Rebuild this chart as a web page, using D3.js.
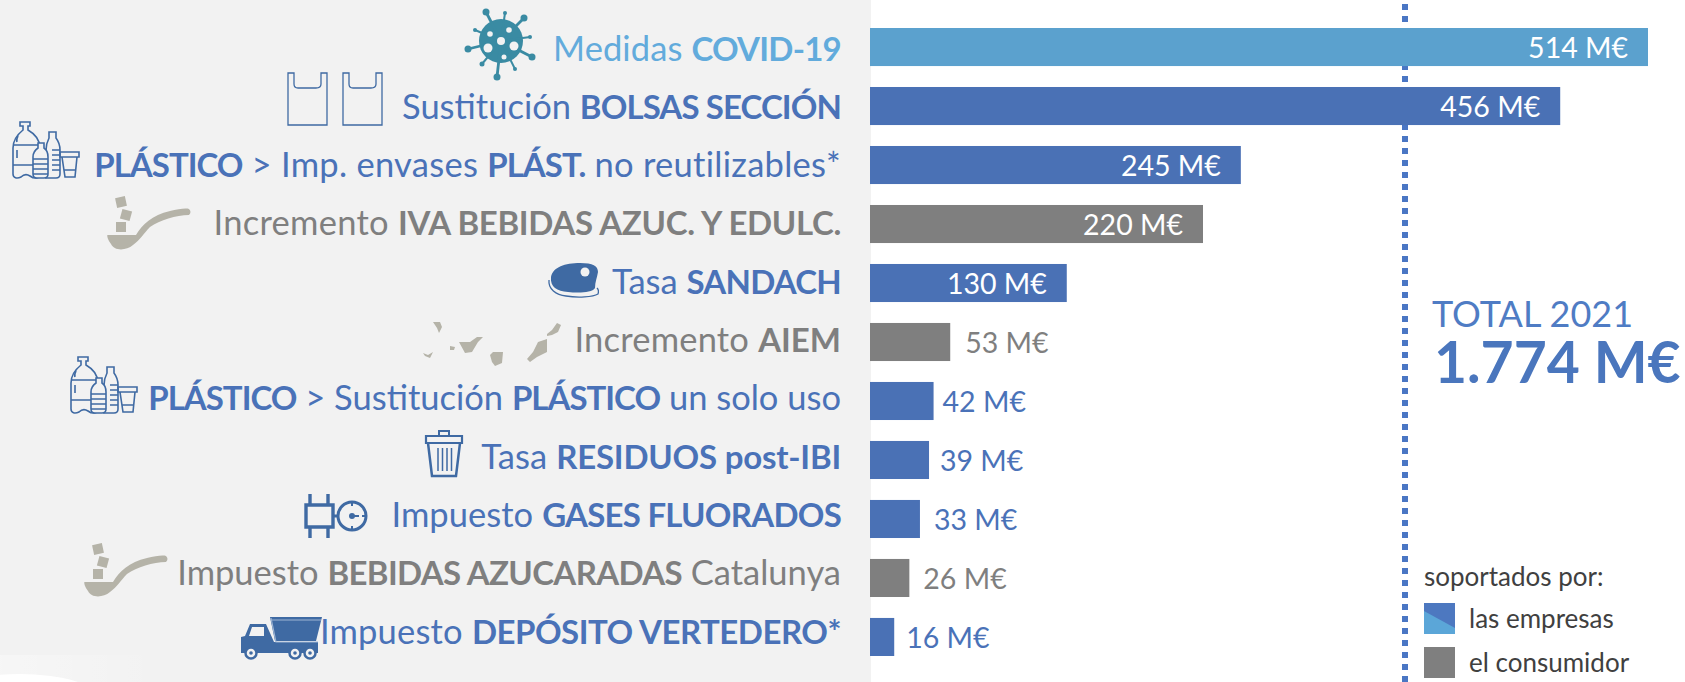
<!DOCTYPE html>
<html><head><meta charset="utf-8">
<script src="https://cdn.jsdelivr.net/npm/d3@7"></script>
<style>html,body{margin:0;padding:0;background:#fff;overflow:hidden}svg{display:block}text{font-family:Lato,"Open Sans",sans-serif}</style>
</head><body><svg id="c" width="1685" height="682"></svg>
<script>
const categories=[
 [["Medidas ",0],["COVID-19",1]],
 [["Sustitución ",0],["BOLSAS SECCIÓN",1]],
 [["PLÁSTICO",1],[" > Imp. envases ",0],["PLÁST.",1],[" no reutilizables*",0]],
 [["Incremento ",0],["IVA BEBIDAS AZUC. Y EDULC.",1]],
 [["Tasa ",0],["SANDACH",1]],
 [["Incremento ",0],["AIEM",1]],
 [["PLÁSTICO",1],[" > Sustitución ",0],["PLÁSTICO",1],[" un solo uso",0]],
 [["Tasa ",0],["RESIDUOS post-IBI",1]],
 [["Impuesto ",0],["GASES FLUORADOS",1]],
 [["Impuesto ",0],["BEBIDAS AZUCARADAS",1],[" Catalunya",0]],
 [["Impuesto ",0],["DEPÓSITO VERTEDERO*",1]]
];
const values=[514,456,245,220,130,53,42,39,33,26,16];
const payer=["covid","empresa","empresa","consumidor","empresa","consumidor","empresa","empresa","empresa","consumidor","empresa"];
const icons=["virus","bags","bottles","spoon","steak","islands","bottles","bin","gas","spoon","truck"];
const totalTitle="TOTAL 2021", totalValue="1.774 M€";
const legendTitle="soportados por:", legendLabels=["las empresas","el consumidor"];

const svg=d3.select("#c");
const x=d3.scaleLinear().domain([0,514]).range([870,1648]);
const y=d3.scaleBand().domain(d3.range(values.length)).range([28,656]).paddingInner(0.355).paddingOuter(0);
const yLabel=d3.scalePoint().domain(d3.range(values.length)).range([60.5,643.5]);
const barCol={covid:"#5ba1ce",empresa:"#4a71b5",consumidor:"#7f7f7f"};
const txtCol={covid:"#62abdc",empresa:"#4a72b8",consumidor:"#7f7f7f"};

svg.append("rect").attr("width",871).attr("height",682).attr("fill","#f2f2f2");
const defs=svg.append("defs");
const g=defs.append("linearGradient").attr("id","fade");
g.append("stop").attr("offset",0).attr("stop-color","#fff").attr("stop-opacity",0.35);
g.append("stop").attr("offset",1).attr("stop-color","#fff").attr("stop-opacity",0);
svg.append("rect").attr("x",0).attr("y",655).attr("width",160).attr("height",27).attr("fill","url(#fade)");
svg.append("ellipse").attr("cx",20).attr("cy",696).attr("rx",75).attr("ry",22).attr("fill","#fff");

svg.append("line").attr("x1",1405).attr("x2",1405).attr("y1",4).attr("y2",682)
 .attr("stroke","#4a76c4").attr("stroke-width",6).attr("stroke-dasharray","6 6");

svg.selectAll("rect.bar").data(values).join("rect").attr("class","bar")
 .attr("x",x(0)).attr("y",(d,i)=>y(i)).attr("width",d=>x(d)-x(0)).attr("height",y.bandwidth())
 .attr("fill",(d,i)=>barCol[payer[i]]);

// value labels
const outGap=[0,0,0,0,0,15,9,11,14,14,12];
svg.selectAll("text.val").data(values).join("text").attr("class","val")
 .attr("x",(d,i)=>d>100?x(d)-20:x(d)+outGap[i]).attr("y",(d,i)=>y(i)+y.bandwidth()/2+11)
 .attr("text-anchor",d=>d>100?"end":"start").attr("font-size",28.5)
 .attr("fill",(d,i)=>d>100?"#fff":txtCol[payer[i]]).text(d=>d+" M€");

// category labels (letter-spacing tunes Lato to the narrower original face, row by row)
const boldTrack=[-0.75,-0.9,-1,-0.33,-0.75,0,-1,-0.22,-0.75,-0.65,-0.49];
const regTrack=[0.1,0,0.28,0.28,0,0.2,0,0.1,0.05,0,0.2];
const lab=svg.selectAll("text.cat").data(categories).join("text").attr("class","cat")
 .attr("x",841).attr("y",(d,i)=>yLabel(i)).attr("text-anchor","end")
 .attr("fill",(d,i)=>txtCol[payer[i]]).style("white-space","pre");
lab.each(function(row,i){
 d3.select(this).selectAll("tspan").data(row).join("tspan")
  .attr("font-weight",d=>d[1]?700:400)
  .attr("font-size",d=>d[1]?33:34.5)
  .attr("letter-spacing",d=>d[1]?boldTrack[i]:regTrack[i])
  .text(d=>d[0]);
});

// icons
const ic="#3f6aa3", sand="#b5b3a8", bg="#f2f2f2";
function virus(s){
 const c="#3a8ba3";
 s.append("circle").attr("r",22).attr("fill",c);
 [[-15,-29,3.5],[4,-28,2],[23,-23,3.5],[29,-4,2],[31,16,3.5],[14,28,2],[-4,36,3.5],[-19,23,2.5],[-33,8,3.5],[-26,-11,2]].forEach(p=>{
  s.append("line").attr("x2",p[0]).attr("y2",p[1]).attr("stroke",c).attr("stroke-width",p[2]>3?2.8:2);
  s.append("circle").attr("cx",p[0]).attr("cy",p[1]).attr("r",p[2]).attr("fill",c);});
 [[0,0,4],[-13,7,4.5],[13,5,4.5],[-11,-7,2.8],[8,-11,2.8],[3,16,2.5]].forEach(p=>s.append("circle").attr("cx",p[0]).attr("cy",p[1]).attr("r",p[2]).attr("fill",bg));
}
function bag(s,dx){
 s.append("path").attr("transform",`translate(${dx},0)`).attr("d","M0,0H6V11Q6,15 10,15H28Q33,15 33,11V0H39V52H0Z").attr("fill","none").attr("stroke",ic).attr("stroke-width",1.3);
}
function bottles(s){
 const p=(d,f)=>s.append("path").attr("d",d).attr("fill",f||"none").attr("stroke",ic).attr("stroke-width",1.6);
 p("M7,0H17V4H15V8C22,12 27,18 27,26V52C27,57 21,57 17,54C14,52 11,52 8,55C4,57 0,56 0,52V26C0,18 5,12 10,8V4H7Z");
 p("M0,23H27M0,43H27M5,14Q3,18 4,20M4,28V36");
 p("M36,10H43V16C46,20 47,24 47,28V52C47,55 45,56 43,56H33V28C33,24 34,20 36,16Z",bg);
 p("M39,28H47M39,33H47M39,38H47M39,43H47M39,48H47");
 p("M25,21H31V26C34,28 35,31 35,35V52C35,55 33,56 31,56H24C21,56 20,55 20,52V35C20,31 22,28 25,26Z",bg);
 p("M20,37H35M20,42H35M20,47H35M20,52H35");
 p("M47,30H66V35H47ZM49,35L52,55H62L64,35M51,48H63");
}
function spoon(s){
 s.append("path").attr("d","M7.3,45H36C42,35 52,25 70,21C78,19 86,18 89,19Q92,22 89,25C76,25 60,30 50,37C44,43 40,50 33,55C26,61 14,61 11,54C8,50 7,47 7.3,45Z").attr("fill",sand);
 [[21,12,-12],[26,25,15],[21,37,0]].forEach(p=>s.append("rect").attr("x",-5).attr("y",-5).attr("width",10).attr("height",10).attr("fill",sand)
   .attr("transform",`translate(${p[0]},${p[1]}) rotate(${p[2]})`));
}
function steak(s){
 s.append("path").attr("d","M3,15C5,5 17,1 32,1C45,1 50,4 50,10C49,16 47,20 47,26C44,31 30,31 20,30C9,29 2,25 3,15Z").attr("fill",ic);
 s.append("path").attr("d","M1,18C0,27 8,33 18,34C30,36 45,35 50,32C51,29 50,27 49,26").attr("fill","none").attr("stroke",ic).attr("stroke-width",1.3);
 s.append("circle").attr("cx",37).attr("cy",10).attr("r",4.5).attr("fill",bg);
}
function islands(s){
 ["M23,12L30,12L32,17L29,23L27,18Z",
  "M13,43L18,45L23,42L20,48L15,46Z",
  "M40,36L45,37L44,40L40,40Z",
  "M49,32L60,32L67,27L73,27L68,32L62,42L55,43Z",
  "M80,45L83,42L93,42L92,53L85,56L82,52Z",
  "M117,49L123,42L128,32L137,29L137,42L127,47L120,52Z",
  "M137,24L142,20L147,13L151,15L148,22L142,25L137,26Z"
 ].forEach(d=>s.append("path").attr("d",d).attr("fill",sand));
}
function bin(s){
 const e=(d,sw)=>s.append("path").attr("d",d).attr("fill","none").attr("stroke",ic).attr("stroke-width",sw);
 e("M14,5V0H24V5",2); e("M1,12V5H37V12Z",2.2); e("M3,12L7,45H31L35,12",2.5);
 e("M13,17V40M17.5,17V40M22,17V40M26.5,17V40",1.5);
}
function gas(s){
 const e=(d,sw)=>s.append("path").attr("d",d).attr("fill","none").attr("stroke",ic).attr("stroke-width",sw);
 e("M15,4V15M33,4V15M11,15H38V37H11ZM15,37V48M33,37V48",3.4);
 e("M38,26H44",3);
 s.append("circle").attr("cx",57).attr("cy",26).attr("r",14).attr("fill","none").attr("stroke",ic).attr("stroke-width",3);
 s.append("circle").attr("cx",57).attr("cy",26).attr("r",3).attr("fill",ic);
 e("M57,26H64M57,12V16M57,36V40M71,26H67",2);
}
function truck(s){
 s.append("path").attr("d","M11,53V37L15,36L20,24H36L44,42H88V53Z").attr("fill",ic);
 s.append("path").attr("d","M40,17H92L86,41H45Z").attr("fill",ic);
 s.append("path").attr("d","M41,20H91M41,18L46,42H88").attr("fill","none").attr("stroke","#9db4d3").attr("stroke-width",1.2);
 s.append("path").attr("d","M19,36L22,27H34V36Z").attr("fill",bg);
 [21,65,80].forEach(c=>{s.append("circle").attr("cx",c).attr("cy",53).attr("r",5.5).attr("fill",bg).attr("stroke",ic).attr("stroke-width",2.5);s.append("circle").attr("cx",c).attr("cy",53).attr("r",1.8).attr("fill",ic);});
}
const draw={virus,bags:s=>{bag(s,0);bag(s,55);},bottles,spoon,steak,islands,bin,gas,truck};
const iconPos=[[501,41],[288,73],[13,122],[100,190],[548,262],[410,310],[71,357],[425,431],[295,490],[77,537],[230,600]];
icons.forEach((k,i)=>{draw[k](svg.append("g").attr("class","icon").attr("transform",`translate(${iconPos[i]})`));});

// total
svg.append("text").attr("x",1432).attr("y",327).attr("font-size",36).attr("fill","#4f7cc4").text(totalTitle);
svg.append("text").attr("x",1434).attr("y",383).attr("font-size",57).attr("font-weight",700).attr("fill","#4a76bd").text(totalValue);

// legend
svg.append("text").attr("x",1424).attr("y",586).attr("font-size",26).attr("fill","#404040").text(legendTitle);
const lx=1424,ly=[603,647],ls=31;
svg.append("rect").attr("x",lx).attr("y",ly[0]).attr("width",ls).attr("height",ls).attr("fill","#5ba6d8");
svg.append("path").attr("d",`M${lx},${ly[0]}H${lx+ls}V${ly[0]+25}L${lx},${ly[0]+8}Z`).attr("fill","#4d78c0");
svg.append("rect").attr("x",lx).attr("y",ly[1]).attr("width",ls).attr("height",ls).attr("fill","#7f7f7f");
legendLabels.forEach((t,i)=>svg.append("text").attr("x",1469).attr("y",ly[i]+25).attr("font-size",26).attr("fill","#404040").text(t));
</script></body></html>
